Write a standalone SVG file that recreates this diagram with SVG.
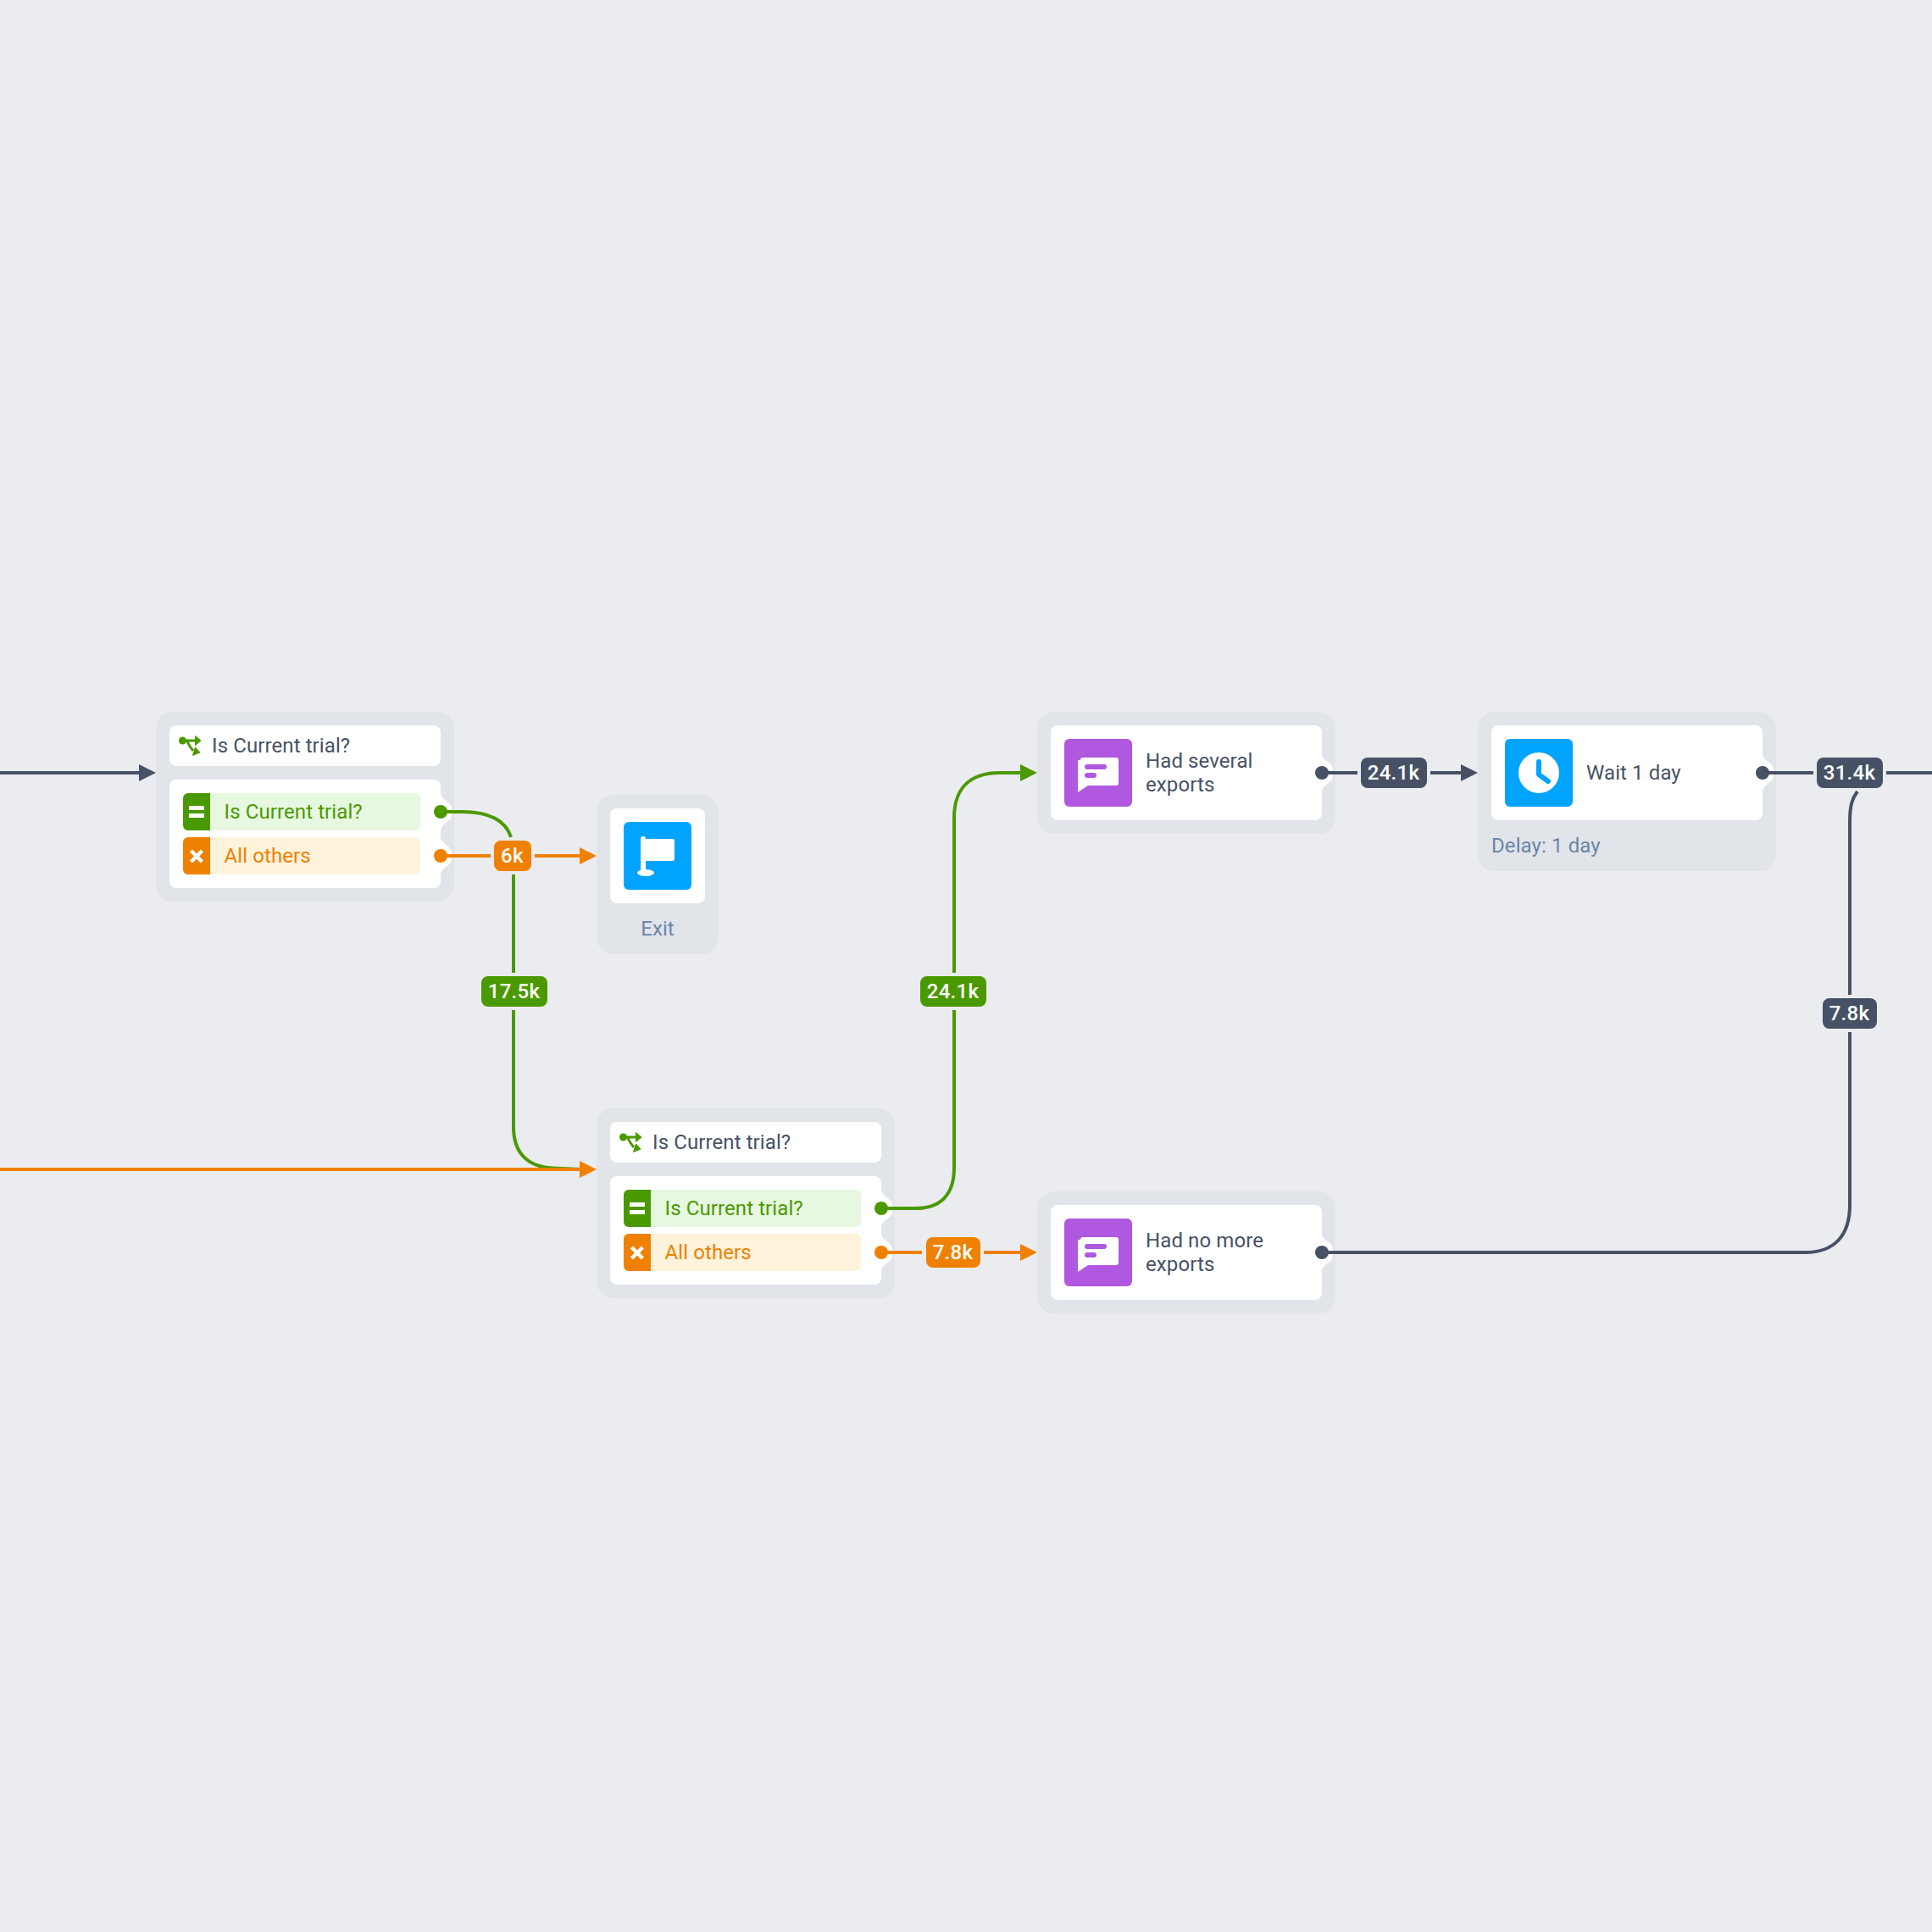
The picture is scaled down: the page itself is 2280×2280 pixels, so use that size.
<svg xmlns="http://www.w3.org/2000/svg" width="2280" height="2280" viewBox="0 0 2280 2280">
<style>
text{font-family:Roboto,"Liberation Sans",sans-serif;letter-spacing:.1px}
.outer{fill:#e1e4e9}
.w{fill:#fff}
.t{font-size:24px;fill:#475166}
.sub{font-size:24px;fill:#6a86a8}
.g{fill:#4b9900}.o{fill:#f08000}.d{fill:#475166}
.gt{font-size:24px;fill:#4b9900}.ot{font-size:24px;fill:#f08000}
.lb{font-size:24px;font-weight:500;fill:#fff;text-anchor:middle;letter-spacing:.3px}
.ln{fill:none;stroke-width:4}
.lg{stroke:#4b9900}.lo{stroke:#f08000}.ld{stroke:#475166}
</style>
<defs>
<g id="branch">
<circle cx="-8.500" cy="-6" r="4.500" fill="#4b9900"/>
<path d="M-8 -6H8M-3 -5Q-1 0 4 6" stroke="#4b9900" stroke-width="3" fill="none"/>
<path d="M6.500 -11.500L13 -6L6.500 -0.500ZM6.500 2L12 8L3.500 11.500Z" fill="#4b9900" stroke="#4b9900" stroke-width="1" stroke-linejoin="round"/>
</g>
<g id="msg">
<rect width="80" height="80" rx="6" fill="#b158e0"/>
<path d="M19 25a3 3 0 0 1 3-3H61a3 3 0 0 1 3 3V52a3 3 0 0 1-3 3H28L16 63V25Z" fill="#fff"/>
<rect x="24" y="30" width="26" height="6" rx="3" fill="#b158e0"/>
<rect x="24" y="40" width="14" height="6" rx="3" fill="#b158e0"/>
</g>
<g id="rows">
<rect x="0" y="0" width="280" height="44" rx="6" fill="#e7f8e0"/>
<path d="M32 0H6a6 6 0 0 0-6 6V38a6 6 0 0 0 6 6H32Z" fill="#4b9900"/>
<rect x="7" y="15" width="18" height="5" fill="#fff"/>
<rect x="7" y="24" width="18" height="5" fill="#fff"/>
<rect x="0" y="52" width="280" height="44" rx="6" fill="#fff3dc"/>
<path d="M32 52H6a6 6 0 0 0-6 6V90a6 6 0 0 0 6 6H32Z" fill="#f08000"/>
<path d="M9.500 68L22.500 81M22.500 68L9.500 81" stroke="#fff" stroke-width="4.500"/>
<text x="48.500" y="29.500" class="gt">Is Current trial?</text>
<text x="48.500" y="81.500" class="ot">All others</text>
</g>
<path id="bump" d="M0 -21C2 -15 6 -14 12 -8C13.500 -5 13.500 5 12 8C6 14 2 15 0 21Z" fill="#fff"/>
</defs>
<rect width="2280" height="2280" fill="#eaecf0"/>

<g id="n1">
<rect class="outer" x="184" y="840" width="352" height="224" rx="20"/>
<rect class="w" x="200" y="856" width="320" height="48" rx="8"/>
<rect class="w" x="200" y="920" width="320" height="128" rx="8"/>
<use href="#bump" x="520" y="958"/><use href="#bump" x="520" y="1010"/>
<use href="#branch" x="224" y="880"/>
<text class="t" x="250" y="887.500">Is Current trial?</text>
<use href="#rows" x="216" y="936"/>
</g>
<g id="n2">
<rect class="outer" x="704" y="1308" width="352" height="224" rx="20"/>
<rect class="w" x="720" y="1324" width="320" height="48" rx="8"/>
<rect class="w" x="720" y="1388" width="320" height="128" rx="8"/>
<use href="#bump" x="1040" y="1426"/><use href="#bump" x="1040" y="1478"/>
<use href="#branch" x="744" y="1348"/>
<text class="t" x="770" y="1355.500">Is Current trial?</text>
<use href="#rows" x="736" y="1404"/>
</g>
<g id="exit">
<rect class="outer" x="704" y="938" width="144" height="188" rx="20"/>
<rect class="w" x="720" y="954" width="112" height="112" rx="8"/>
<rect x="736" y="970" width="80" height="80" rx="6" fill="#00a4ff"/>
<path d="M756 990a3 3 0 0 1 6 0H794a2 2 0 0 1 2 2V1014a2 2 0 0 1-2 2H762V1028H756Z" fill="#fff"/>
<ellipse cx="762" cy="1030" rx="10" ry="4" fill="#fff"/>
<text class="sub" x="776" y="1104" text-anchor="middle">Exit</text>
</g>
<g id="n3">
<rect class="outer" x="1224" y="840" width="352" height="144" rx="20"/>
<rect class="w" x="1240" y="856" width="320" height="112" rx="8"/>
<use href="#bump" x="1560" y="912"/>
<use href="#msg" x="1256" y="872"/>
<text class="t" x="1352" y="906">Had several</text>
<text class="t" x="1352" y="934">exports</text>
</g>
<g id="n4">
<rect class="outer" x="1744" y="840" width="352" height="188" rx="20"/>
<rect class="w" x="1760" y="856" width="320" height="112" rx="8"/>
<use href="#bump" x="2080" y="912"/>
<rect x="1776" y="872" width="80" height="80" rx="6" fill="#00a4ff"/>
<circle cx="1816" cy="912" r="24" fill="#fff"/>
<path d="M1816 899V914L1827 922" fill="none" stroke="#00a4ff" stroke-width="6" stroke-linecap="round" stroke-linejoin="round"/>
<text class="t" x="1872" y="919.500">Wait 1 day</text>
<text class="sub" x="1760" y="1006">Delay: 1 day</text>
</g>
<g id="n5">
<rect class="outer" x="1224" y="1406" width="352" height="144" rx="20"/>
<rect class="w" x="1240" y="1422" width="320" height="112" rx="8"/>
<use href="#bump" x="1560" y="1478"/>
<use href="#msg" x="1256" y="1438"/>
<text class="t" x="1352" y="1472">Had no more</text>
<text class="t" x="1352" y="1500">exports</text>
</g>

<g id="connectors">
<path class="ln ld" d="M0 912H166"/><path class="d" d="M164 902L184 912L164 922Z"/>
<path class="ln lg" d="M520 958H545C575 958 596 966 603 988"/>
<path class="ln lg" d="M606 1032V1148M606 1192V1330C606 1360 622 1377 652 1378.500L686 1380"/>
<path class="ln lo" d="M0 1380H686M520 1010H579M631 1010H686"/>
<path class="o" d="M684 1370L704 1380L684 1390ZM684 1000L704 1010L684 1020Z"/>
<circle class="g" cx="520" cy="958" r="8"/><circle class="o" cx="520" cy="1010" r="8"/>
<path class="ln lg" d="M1040 1426H1080C1110 1426 1126 1410 1126 1378V1192M1126 1148V965C1126 930 1145 912 1180 912H1206"/>
<path class="g" d="M1204 902L1224 912L1204 922Z"/>
<path class="ln lo" d="M1040 1478H1088M1161 1478H1206"/>
<path class="o" d="M1204 1468L1224 1478L1204 1488Z"/>
<circle class="g" cx="1040" cy="1426" r="8"/><circle class="o" cx="1040" cy="1478" r="8"/>
<path class="ln ld" d="M1560 912H1602M1688 912H1726"/>
<path class="d" d="M1724 902L1744 912L1724 922Z"/>
<circle class="d" cx="1560" cy="912" r="8"/>
<path class="ln ld" d="M2080 912H2140M2226 912H2280"/>
<circle class="d" cx="2080" cy="912" r="8"/>
<path class="ln ld" d="M1560 1478H2130C2165 1478 2183 1458 2183 1422V1218M2183 1174V970C2183 950 2186 942 2192 934"/>
<circle class="d" cx="1560" cy="1478" r="8"/>
<rect class="o" x="583" y="992" width="44" height="36" rx="8"/><text class="lb" x="604.500" y="1018">6k</text>
<rect class="g" x="568" y="1152" width="78" height="36" rx="8"/><text class="lb" x="606.500" y="1178">17.5k</text>
<rect class="g" x="1086" y="1152" width="78" height="36" rx="8"/><text class="lb" x="1124.500" y="1178">24.1k</text>
<rect class="o" x="1093" y="1460" width="64" height="36" rx="8"/><text class="lb" x="1124.500" y="1486">7.8k</text>
<rect class="d" x="1606" y="894" width="78" height="36" rx="8"/><text class="lb" x="1644.500" y="920">24.1k</text>
<rect class="d" x="2144" y="894" width="78" height="36" rx="8"/><text class="lb" x="2182.500" y="920">31.4k</text>
<rect class="d" x="2151" y="1178" width="64" height="36" rx="8"/><text class="lb" x="2182.500" y="1204">7.8k</text>
</g>
</svg>
